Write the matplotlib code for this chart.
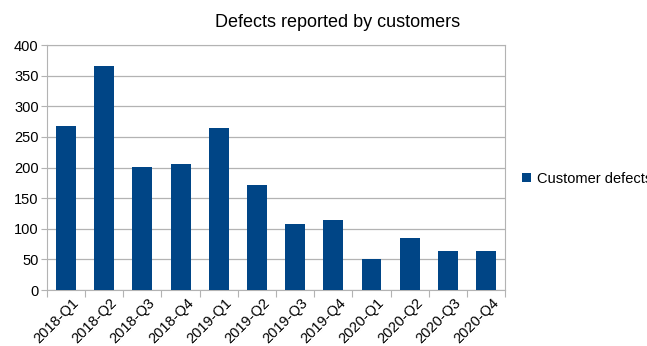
import numpy as np
import matplotlib
matplotlib.use("Agg")
import matplotlib.pyplot as plt

# Datos
quarters = ["2018-Q1", "2018-Q2", "2018-Q3", "2018-Q4",
            "2019-Q1", "2019-Q2", "2019-Q3", "2019-Q4",
            "2020-Q1", "2020-Q2", "2020-Q3", "2020-Q4"]
defects = [268, 366, 201, 205, 265, 172, 108, 115, 51, 85, 64, 64]

plt.rcParams["font.family"] = ["Liberation Sans", "DejaVu Sans"]

fig = plt.figure(figsize=(6.47, 3.46), dpi=100)
ax = fig.add_axes([0.0726, 0.1618, 0.708, 0.708])

x = np.arange(len(quarters))
ax.bar(x, defects, width=0.52, color="#004586", label="Customer defects", zorder=3)

ax.set_xlim(-0.5, len(quarters) - 0.5)
ax.set_ylim(0, 400)
ax.set_yticks(np.arange(0, 401, 50))
ax.tick_params(axis="y", labelsize=10.5, length=4, color="#b3b3b3", pad=2)
ax.grid(axis="y", color="#b3b3b3", linewidth=0.9, zorder=0)

# ticks del eje x en los bordes de las categorías
ax.set_xticks(np.arange(-0.5, len(quarters), 1.0))
ax.set_xticklabels([])
ax.set_xticks(x + 0.15, minor=True)
ax.set_xticklabels(quarters, minor=True, rotation=45, ha="right",
                   rotation_mode="anchor", fontsize=10.5)
ax.tick_params(axis="x", which="major", length=5, color="#b3b3b3")
ax.tick_params(axis="x", which="minor", length=0, pad=4)

for s in ax.spines.values():
    s.set_color("#b3b3b3")

fig.text(0.522, 0.935, "Defects reported by customers", ha="center",
         va="center", fontsize=13)

ax.legend(loc="center left", bbox_to_anchor=(0.787, 0.483),
          bbox_transform=fig.transFigure, frameon=False, fontsize=10.5,
          handlelength=0.6, handleheight=0.6, handletextpad=0.4)

fig.savefig("out.png", dpi=100)
